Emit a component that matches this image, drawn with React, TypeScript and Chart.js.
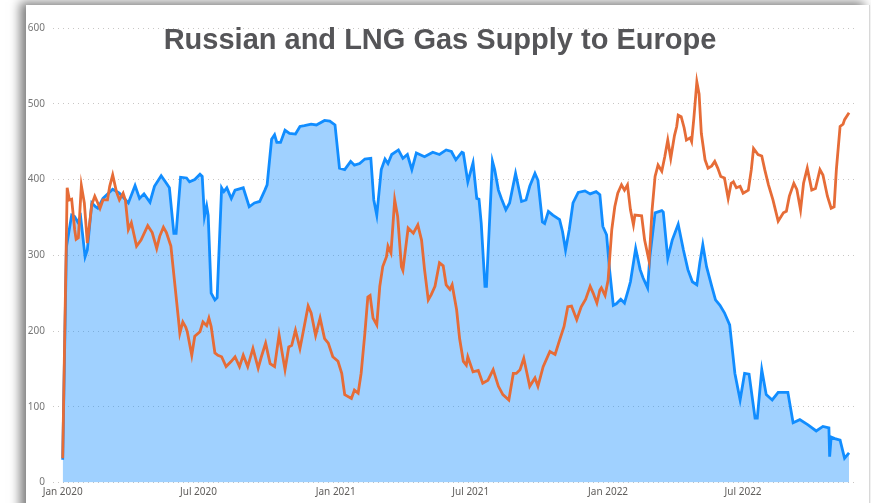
import React, { useEffect, useRef } from "react";
import { Chart, registerables } from "chart.js";

Chart.register(...registerables);

const TITLE = "Russian and LNG Gas Supply to Europe";

// x values are days since 1 Jan 2020
const xTickDays = [0, 182, 366, 547, 731, 912];
const xTickLabels = ["Jan 2020", "Jul 2020", "Jan 2021", "Jul 2021", "Jan 2022", "Jul 2022"];
const yTicks = [0, 100, 200, 300, 400, 500, 600];

const russiaDays = [0, 5, 12, 16, 20, 24, 30, 33, 39, 44, 47, 54, 67, 76, 88, 97, 103, 109, 117, 123, 132, 139, 143, 149, 152, 158, 166, 170, 177, 184, 187, 190, 193, 195, 199, 204, 207, 213, 216, 220, 226, 231, 242, 250, 257, 264, 271, 274, 280, 284, 287, 292, 298, 304, 312, 318, 324, 333, 340, 351, 358, 365, 371, 378, 386, 391, 398, 405, 413, 417, 421, 427, 432, 436, 441, 450, 456, 462, 468, 474, 485, 496, 505, 514, 521, 527, 535, 537, 543, 550, 555, 558, 561, 566, 568, 576, 579, 584, 588, 594, 599, 607, 615, 621, 626, 633, 637, 643, 646, 651, 657, 666, 670, 674, 679, 684, 691, 700, 707, 715, 720, 724, 729, 733, 738, 742, 748, 753, 758, 761, 768, 774, 778, 784, 787, 794, 803, 805, 811, 817, 825, 832, 838, 844, 850, 854, 858, 863, 870, 875, 881, 887, 894, 901, 908, 914, 920, 928, 931, 937, 943, 951, 959, 972, 979, 988, 999, 1010, 1019, 1027, 1028, 1030, 1035, 1042, 1048, 1054];
const russiaValues = [30, 311, 353, 351, 344, 351, 298, 307, 369, 364, 362, 375, 387, 382, 369, 392, 375, 381, 370, 391, 405, 395, 389, 329, 329, 403, 402, 397, 400, 407, 404, 351, 365, 353, 250, 241, 244, 389, 384, 389, 375, 386, 389, 364, 369, 371, 386, 393, 453, 459, 449, 449, 465, 461, 460, 470, 471, 473, 472, 478, 477, 472, 415, 413, 424, 419, 421, 427, 428, 373, 353, 413, 427, 421, 433, 439, 428, 433, 413, 435, 430, 436, 433, 439, 437, 426, 436, 435, 397, 422, 375, 374, 342, 259, 259, 424, 413, 386, 375, 360, 369, 408, 371, 373, 391, 408, 399, 344, 342, 358, 353, 347, 331, 307, 334, 369, 383, 385, 381, 384, 380, 338, 327, 281, 234, 236, 242, 237, 254, 265, 309, 281, 270, 257, 298, 356, 359, 357, 296, 320, 341, 307, 281, 265, 261, 290, 314, 285, 259, 241, 234, 224, 208, 144, 109, 144, 143, 85, 85, 149, 116, 109, 119, 119, 79, 83, 76, 68, 74, 72, 34, 60, 58, 56, 32, 39];

const lngDays = [0, 6, 9, 12, 16, 18, 21, 25, 29, 33, 39, 43, 47, 50, 54, 60, 63, 67, 72, 76, 81, 84, 88, 92, 99, 105, 114, 120, 126, 130, 135, 139, 145, 155, 157, 161, 165, 167, 173, 177, 184, 188, 193, 196, 199, 204, 208, 213, 219, 226, 231, 237, 242, 248, 255, 262, 266, 272, 278, 284, 290, 298, 303, 307, 312, 318, 322, 329, 333, 339, 345, 351, 356, 362, 369, 374, 378, 387, 391, 396, 400, 405, 409, 412, 416, 421, 425, 429, 434, 436, 440, 445, 449, 454, 456, 463, 470, 476, 481, 485, 490, 494, 499, 505, 510, 514, 519, 522, 528, 532, 537, 541, 543, 550, 557, 563, 570, 577, 584, 590, 598, 604, 608, 613, 618, 626, 633, 637, 644, 653, 660, 666, 672, 677, 682, 689, 695, 701, 707, 711, 716, 720, 722, 727, 731, 736, 740, 744, 749, 753, 757, 761, 765, 767, 776, 780, 786, 790, 794, 798, 803, 807, 811, 815, 820, 823, 825, 829, 833, 836, 841, 843, 846, 850, 853, 856, 861, 865, 870, 874, 878, 882, 887, 892, 896, 899, 903, 908, 912, 919, 923, 926, 932, 937, 941, 946, 952, 959, 966, 970, 974, 980, 984, 989, 993, 998, 1004, 1009, 1015, 1019, 1025, 1030, 1034, 1037, 1042, 1046, 1048, 1054];
const lngValues = [32, 389, 373, 374, 334, 321, 323, 392, 369, 316, 367, 378, 369, 362, 373, 373, 391, 406, 384, 373, 382, 373, 334, 343, 312, 320, 339, 330, 309, 325, 337, 330, 312, 217, 197, 212, 205, 199, 168, 193, 199, 212, 207, 217, 206, 171, 168, 166, 153, 160, 166, 153, 168, 153, 177, 151, 165, 184, 157, 153, 195, 149, 179, 181, 201, 177, 197, 233, 224, 194, 217, 190, 184, 166, 160, 144, 116, 111, 122, 118, 144, 197, 245, 247, 217, 208, 259, 285, 298, 312, 303, 373, 351, 285, 280, 336, 329, 340, 320, 281, 241, 248, 259, 290, 286, 261, 255, 261, 228, 190, 160, 155, 166, 146, 148, 131, 135, 149, 127, 116, 109, 144, 144, 149, 164, 127, 138, 127, 153, 173, 169, 188, 206, 232, 233, 215, 232, 242, 259, 250, 237, 254, 257, 247, 267, 334, 364, 382, 393, 386, 393, 360, 340, 353, 352, 320, 292, 360, 404, 419, 411, 430, 452, 428, 458, 470, 485, 483, 468, 452, 455, 450, 481, 529, 513, 461, 426, 415, 418, 424, 415, 404, 402, 375, 395, 397, 389, 391, 382, 386, 413, 441, 433, 431, 413, 393, 373, 345, 356, 358, 378, 395, 387, 360, 395, 415, 386, 388, 413, 406, 378, 362, 364, 413, 470, 473, 479, 488];

const W = 871;
const H = 503;

export default function App() {
  const ref = useRef<HTMLCanvasElement | null>(null);

  useEffect(() => {
    if (!ref.current) return;
    const russia = russiaDays.map((d, i) => ({ x: d, y: russiaValues[i] }));
    const lng = lngDays.map((d, i) => ({ x: d, y: lngValues[i] }));
    const chart = new Chart(ref.current, {
      type: "line",
      data: {
        datasets: [
          {
            label: "LNG",
            data: lng,
            borderColor: "#E66C37",
            borderWidth: 2.8,
            pointRadius: 0,
            tension: 0,
            fill: false,
          },
          {
            label: "Russian pipeline",
            data: russia,
            borderColor: "#118DFF",
            backgroundColor: "rgba(17,141,255,0.4)",
            borderWidth: 2.8,
            pointRadius: 0,
            tension: 0,
            fill: "origin",
          },
        ],
      },
      options: {
        responsive: false,
        animation: false,
        layout: { padding: { left: 0, right: 13, top: 28, bottom: 0 } },
        plugins: { legend: { display: false }, tooltip: { enabled: false }, title: { display: false } },
        scales: {
          x: {
            type: "linear",
            min: -13,
            max: 1066,
            afterBuildTicks: (scale: any) => {
              scale.ticks = xTickDays.map((v) => ({ value: v }));
            },
            afterFit: (scale: any) => {
              scale.height = 20.5;
            },
            ticks: {
              autoSkip: false,
              maxRotation: 0,
              padding: 4,
              color: "#605E5C",
              font: { family: "'Noto Sans', 'Open Sans', sans-serif", size: 10 },
              callback: (v: any) => {
                const i = xTickDays.indexOf(Number(v));
                return i >= 0 ? xTickLabels[i] : "";
              },
            },
            grid: { display: false, drawTicks: false },
            border: { display: false },
          },
          y: {
            min: 0,
            max: 600,
            afterBuildTicks: (scale: any) => {
              scale.ticks = yTicks.map((v) => ({ value: v }));
            },
            afterFit: (scale: any) => {
              scale.width = 53;
            },
            ticks: {
              padding: 8,
              color: "#777777",
              font: { family: "'Noto Sans', 'Open Sans', sans-serif", size: 10 },
            },
            grid: { color: "#C8C6C4", lineWidth: 1, drawTicks: false },
            border: { display: false, dash: [1, 4] },
          },
        },
      },
    });
    return () => chart.destroy();
  }, []);

  return (
    <div style={{ position: "fixed", left: 0, top: 0, width: W, height: H, overflow: "hidden", background: "#fff" }}>
      <div
        style={{
          position: "absolute",
          left: 26,
          top: 5,
          width: 843,
          height: 540,
          background: "#fff",
          boxShadow: "-6px -3px 10px rgba(0,0,0,0.5)",
          borderRight: "1px solid #d8d8d8",
        }}
      />
      <canvas ref={ref} width={W} height={H} style={{ position: "absolute", left: 0, top: 0, width: W, height: H }} />
      <div
        style={{
          position: "absolute",
          left: 0,
          top: 25,
          width: 880,
          textAlign: "center",
          fontFamily: "'Liberation Sans', Arial, sans-serif",
          fontWeight: 700,
          fontSize: 29,
          lineHeight: "29px",
          color: "#555558",
          whiteSpace: "nowrap",
          pointerEvents: "none",
        }}
      >
        {TITLE}
      </div>
    </div>
  );
}
